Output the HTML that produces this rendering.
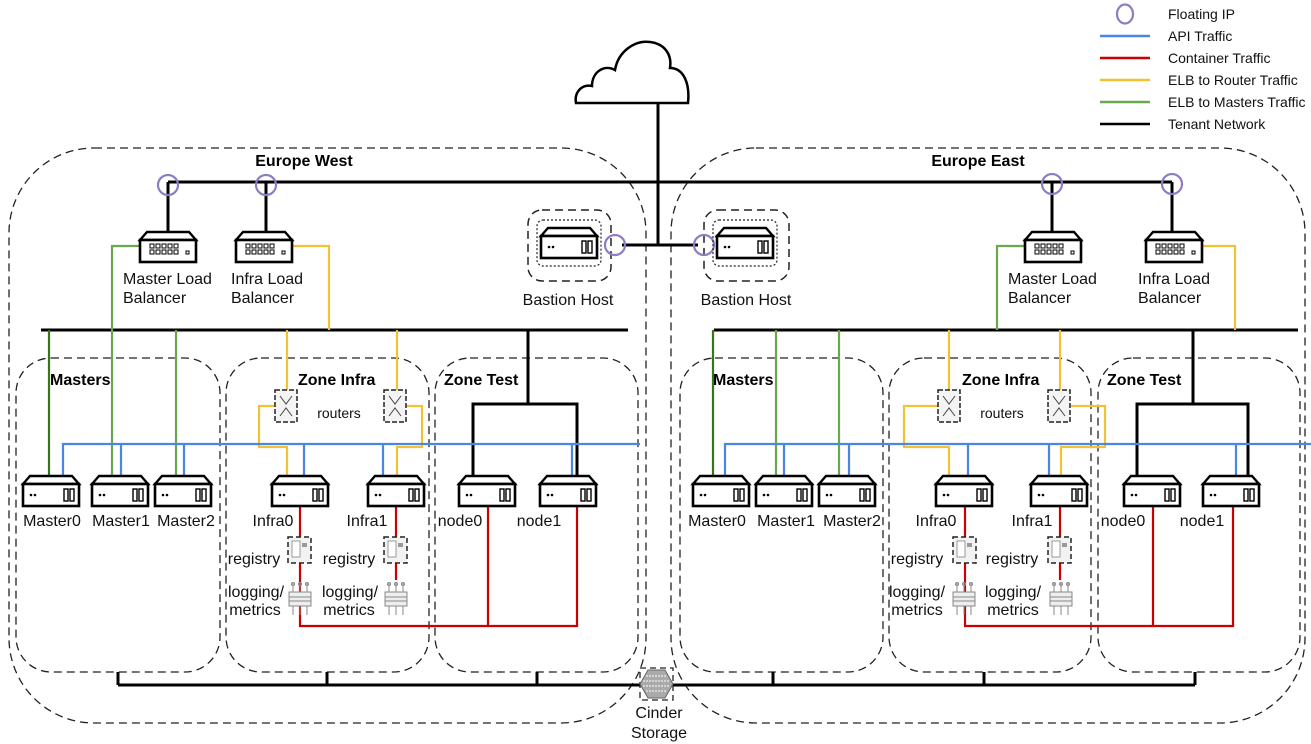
<!DOCTYPE html>
<html><head><meta charset="utf-8"><style>
html,body{margin:0;padding:0;background:#fff;}
svg{display:block;font-family:"Liberation Sans",Arial,sans-serif;}
.t{font-size:16px;fill:#111;}
.b{font-size:16px;font-weight:bold;fill:#000;}
.s{font-size:14px;fill:#111;}
</style></head><body>
<svg width="1311" height="744" viewBox="0 0 1311 744" xmlns="http://www.w3.org/2000/svg">
<defs>
<g id="srv">
<path d="M0,8 L7,0 L49,0 L56,8 Z" fill="#fff" stroke="#000" stroke-width="2.4"/>
<rect x="0" y="8" width="56" height="22" fill="#fff" stroke="#000" stroke-width="2.6"/>
<circle cx="8" cy="19" r="1.3" fill="#000"/><circle cx="12" cy="19" r="1.3" fill="#000"/>
<rect x="41" y="13" width="4" height="12" fill="none" stroke="#000" stroke-width="1.4"/>
<rect x="47" y="13" width="4" height="12" fill="none" stroke="#000" stroke-width="1.4"/>
</g>
<g id="lb">
<path d="M0,8 L7,0 L49,0 L56,8 Z" fill="#fff" stroke="#000" stroke-width="2.4"/>
<rect x="0" y="8" width="56" height="22" fill="#fff" stroke="#000" stroke-width="2.6"/>
<g fill="none" stroke="#000" stroke-width="1">
<rect x="10" y="12" width="4" height="4"/><rect x="16" y="12" width="4" height="4"/><rect x="22" y="12" width="4" height="4"/><rect x="28" y="12" width="4" height="4"/><rect x="34" y="12" width="4" height="4"/>
<rect x="10" y="18" width="4" height="4"/><rect x="16" y="18" width="4" height="4"/><rect x="22" y="18" width="4" height="4"/><rect x="28" y="18" width="4" height="4"/><rect x="34" y="18" width="4" height="4"/>
<rect x="46" y="19" width="3" height="3"/></g>
</g>
<g id="rt">
<rect x="0" y="0" width="22" height="32" fill="#f4f4f4" stroke="#222" stroke-width="1.5" stroke-dasharray="5,2"/>
<path d="M5,6 L11,14 L17,6 M5,26 L11,18 L17,26" fill="none" stroke="#444" stroke-width="1"/>
</g>
<g id="reg">
<rect x="0" y="0" width="23" height="26" fill="#f2f2f2" stroke="#222" stroke-width="1.5" stroke-dasharray="5,3"/>
<rect x="4" y="4" width="8" height="16" fill="#fff" stroke="#999"/>
<rect x="14" y="6" width="5" height="4" fill="#999"/>
</g>
<g id="log">
<g stroke="#888" stroke-width="1" fill="none">
<path d="M5,0 V10 M12,0 V10 M19,0 V10 M5,24 V33 M12,24 V33 M19,24 V33"/>
<circle cx="5" cy="2" r="1.5"/><circle cx="12" cy="2" r="1.5"/><circle cx="19" cy="2" r="1.5"/>
<rect x="1" y="10" width="22" height="14" fill="#eee"/>
<path d="M1,15 H23 M1,19 H23"/></g>
</g>
</defs>

<!-- legend -->
<ellipse cx="1125" cy="14" rx="8" ry="9.5" fill="none" stroke="#8e7cc3" stroke-width="2.2"/>
<g stroke-width="2.5">
<line x1="1100" y1="36" x2="1150" y2="36" stroke="#4a86e8"/>
<line x1="1100" y1="58" x2="1150" y2="58" stroke="#cc0000"/>
<line x1="1100" y1="80" x2="1150" y2="80" stroke="#f1c232"/>
<line x1="1100" y1="102" x2="1150" y2="102" stroke="#6aa84f"/>
<line x1="1100" y1="124" x2="1150" y2="124" stroke="#000"/>
</g>
<text class="s" x="1168" y="19">Floating IP</text>
<text class="s" x="1168" y="41">API Traffic</text>
<text class="s" x="1168" y="63">Container Traffic</text>
<text class="s" x="1168" y="85">ELB to Router Traffic</text>
<text class="s" x="1168" y="107">ELB to Masters Traffic</text>
<text class="s" x="1168" y="129">Tenant Network</text>

<!-- cloud -->
<path d="M576,103 C574,92 582,84 592,86 C592,72 604,64 615,70 C618,52 634,40 650,42 C666,44 672,56 670,68 C684,68 690,84 688,103 Z" fill="#fff" stroke="#000" stroke-width="2.5"/>

<!-- region boxes -->
<g fill="none" stroke="#222" stroke-width="1.3" stroke-dasharray="8,5">
<rect x="9" y="148" width="637" height="575" rx="85"/>
<rect x="671" y="148" width="634" height="575" rx="85"/>
<rect x="16" y="358" width="204" height="314" rx="35"/>
<rect x="226" y="358" width="203" height="314" rx="35"/>
<rect x="435" y="358" width="203" height="314" rx="35"/>
<rect x="680" y="358" width="203" height="314" rx="35"/>
<rect x="889" y="358" width="202" height="314" rx="35"/>
<rect x="1098" y="358" width="202" height="314" rx="35"/>
<rect x="528" y="210" width="83" height="71" rx="14" stroke-width="1.5"/>
<rect x="704" y="210" width="85" height="71" rx="14" stroke-width="1.5"/>
</g>

<!-- tenant black lines -->
<g stroke="#000" stroke-width="3" fill="none">
<path d="M658,103 V245 M168,182 H1172 M168,182 V232 M266,182 V232 M1052,182 V232 M1172,182 V232 M622,245 H698"/>
<path d="M41,330 H628 M714,330 H1298"/>
<path d="M528,330 V404 M473,478 V404 H577 V478"/>
<path d="M1193,330 V404 M1137,478 V404 H1248 V478"/>
<path d="M118,672 V685 M327,672 V685 M537,672 V685 M118,685 H1195 M773,672 V685 M984,672 V685 M1195,672 V685"/>
</g>

<!-- green -->
<g stroke="#6aa84f" stroke-width="2.2" fill="none">
<path d="M140,246 H112 V478 M176,330 V478"/>
<path d="M1025,246 H997 V330 M776,330 V478 M839,330 V478"/>
</g>
<g stroke="#38761d" stroke-width="2.2"><path d="M49,330 V478 M713,330 V478"/></g>

<!-- yellow -->
<g stroke="#f1c232" stroke-width="2.2" fill="none">
<path d="M292,246 H329 V330"/>
<path d="M287,330 V390 M275,406 H259 V447 H287 V478 M397,330 V390 M405,406 H422 V447 H397 V478"/>
<path d="M1201,246 H1235 V330"/>
<path d="M949,330 V390 M938,406 H904 V447 H949 V478 M1060,330 V390 M1071,406 H1105 V447 H1061 V478"/>
</g>

<!-- blue -->
<g stroke="#4a86e8" stroke-width="2.2" fill="none">
<path d="M63,478 V444 H640 M121,444 V478 M184,444 V478 M304,444 V478 M383,444 V478 M572,444 V478"/>
<path d="M725,478 V444 H1311 M784,444 V478 M849,444 V478 M968,444 V478 M1049,444 V478 M1236,444 V478"/>
</g>

<!-- red -->
<g stroke="#cc0000" stroke-width="2.2" fill="none">
<path d="M300,505 V626 H577 V505 M488,505 V626 M396,505 V580"/>
<path d="M965,505 V626 H1233 V505 M1153,505 V626 M1060,505 V580"/>
</g>

<!-- floating IPs -->
<g fill="none" stroke="#8e7cc3" stroke-width="2.2">
<circle cx="168" cy="185" r="10"/><circle cx="266" cy="185" r="10"/>
<circle cx="1052" cy="184" r="10"/><circle cx="1172" cy="184" r="10"/>
<circle cx="615" cy="245" r="10"/><circle cx="704" cy="245" r="10"/>
</g>

<!-- LB -->
<use href="#lb" x="140" y="232"/><use href="#lb" x="236" y="232"/>
<use href="#lb" x="1025" y="232"/><use href="#lb" x="1146" y="232"/>

<!-- bastion -->
<rect x="537" y="220" width="64" height="46" rx="6" fill="none" stroke="#222" stroke-width="1.2" stroke-dasharray="2,2"/>
<use href="#srv" x="541" y="228"/>
<rect x="713" y="220" width="64" height="46" rx="6" fill="none" stroke="#222" stroke-width="1.2" stroke-dasharray="2,2"/>
<use href="#srv" x="717" y="228"/>

<!-- servers -->
<use href="#srv" x="23" y="476"/><use href="#srv" x="92" y="476"/><use href="#srv" x="155" y="476"/>
<use href="#srv" x="272" y="476"/><use href="#srv" x="368" y="476"/>
<use href="#srv" x="459" y="476"/><use href="#srv" x="540" y="476"/>
<use href="#srv" x="693" y="476"/><use href="#srv" x="756" y="476"/><use href="#srv" x="819" y="476"/>
<use href="#srv" x="936" y="476"/><use href="#srv" x="1031" y="476"/>
<use href="#srv" x="1124" y="476"/><use href="#srv" x="1203" y="476"/>

<!-- routers, registry, logging -->
<use href="#rt" x="275" y="390"/><use href="#rt" x="384" y="390"/>
<use href="#rt" x="938" y="390"/><use href="#rt" x="1048" y="390"/>
<use href="#reg" x="288" y="537"/><use href="#reg" x="384" y="537"/>
<use href="#reg" x="953" y="537"/><use href="#reg" x="1048" y="537"/>
<use href="#log" x="288" y="582"/><use href="#log" x="384" y="582"/>
<use href="#log" x="952" y="582"/><use href="#log" x="1049" y="582"/>

<!-- storage -->
<rect x="640" y="668" width="33" height="32" fill="none" stroke="#222" stroke-width="1.3" stroke-dasharray="6,4"/>
<path d="M648,670 H665 L673,684 L665,698 H648 L640,684 Z" fill="#aaa" stroke="#666"/>
<path d="M646,676 H667 M643,681 H670 M643,686 H670 M646,691 H667" stroke="#fff" stroke-width="1" stroke-dasharray="2,1"/>

<!-- text -->
<text class="b" x="304" y="166" text-anchor="middle">Europe West</text>
<text class="b" x="978" y="166" text-anchor="middle">Europe East</text>
<text class="t" x="123" y="284">Master Load</text><text class="t" x="123" y="303">Balancer</text>
<text class="t" x="231" y="284">Infra Load</text><text class="t" x="231" y="303">Balancer</text>
<text class="t" x="568" y="305" text-anchor="middle">Bastion Host</text>
<text class="t" x="746" y="305" text-anchor="middle">Bastion Host</text>
<text class="t" x="1008" y="284">Master Load</text><text class="t" x="1008" y="303">Balancer</text>
<text class="t" x="1138" y="284">Infra Load</text><text class="t" x="1138" y="303">Balancer</text>
<text class="b" x="50" y="385">Masters</text>
<text class="b" x="298" y="385">Zone Infra</text>
<text class="b" x="444" y="385">Zone Test</text>
<text class="b" x="713" y="385">Masters</text>
<text class="b" x="962" y="385">Zone Infra</text>
<text class="b" x="1107" y="385">Zone Test</text>
<text class="s" x="339" y="418" text-anchor="middle">routers</text>
<text class="s" x="1002" y="418" text-anchor="middle">routers</text>
<text class="t" x="52" y="526" text-anchor="middle">Master0</text>
<text class="t" x="121" y="526" text-anchor="middle">Master1</text>
<text class="t" x="186" y="526" text-anchor="middle">Master2</text>
<text class="t" x="273" y="526" text-anchor="middle">Infra0</text>
<text class="t" x="367" y="526" text-anchor="middle">Infra1</text>
<text class="t" x="460" y="526" text-anchor="middle">node0</text>
<text class="t" x="539" y="526" text-anchor="middle">node1</text>
<text class="t" x="717" y="526" text-anchor="middle">Master0</text>
<text class="t" x="786" y="526" text-anchor="middle">Master1</text>
<text class="t" x="852" y="526" text-anchor="middle">Master2</text>
<text class="t" x="936" y="526" text-anchor="middle">Infra0</text>
<text class="t" x="1032" y="526" text-anchor="middle">Infra1</text>
<text class="t" x="1123" y="526" text-anchor="middle">node0</text>
<text class="t" x="1202" y="526" text-anchor="middle">node1</text>
<text class="t" x="254" y="564" text-anchor="middle">registry</text>
<text class="t" x="349" y="564" text-anchor="middle">registry</text>
<text class="t" x="917" y="564" text-anchor="middle">registry</text>
<text class="t" x="1012" y="564" text-anchor="middle">registry</text>
<text class="t" x="256" y="597" text-anchor="middle">logging/</text><text class="t" x="255" y="615" text-anchor="middle">metrics</text>
<text class="t" x="350" y="597" text-anchor="middle">logging/</text><text class="t" x="349" y="615" text-anchor="middle">metrics</text>
<text class="t" x="917" y="597" text-anchor="middle">logging/</text><text class="t" x="917" y="615" text-anchor="middle">metrics</text>
<text class="t" x="1013" y="597" text-anchor="middle">logging/</text><text class="t" x="1013" y="615" text-anchor="middle">metrics</text>
<text class="t" x="659" y="718" text-anchor="middle">Cinder</text>
<text class="t" x="659" y="738" text-anchor="middle">Storage</text>
</svg>
</body></html>
